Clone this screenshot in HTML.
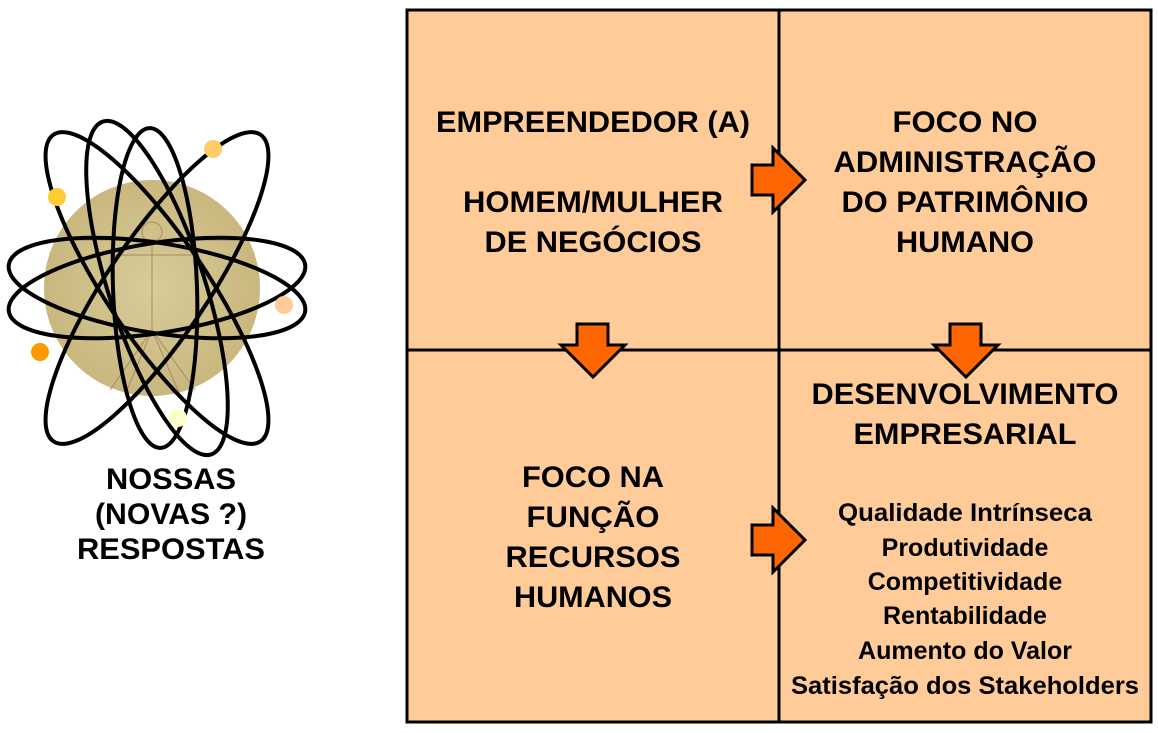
<!DOCTYPE html>
<html><head><meta charset="utf-8"><style>
html,body{margin:0;padding:0;background:#fff;}
svg{display:block;}
text{font-family:"Liberation Sans",Arial,sans-serif;font-weight:bold;fill:#000;}
</style></head><body>
<svg width="1158" height="733" viewBox="0 0 1158 733">
<defs>
<radialGradient id="g" cx="50%" cy="50%" r="50%">
<stop offset="0" stop-color="#d8cc9a"/><stop offset="1" stop-color="#c9b77e"/>
</radialGradient>
</defs>
<circle cx="152" cy="288" r="108" fill="url(#g)"/>
<g fill="none" stroke="#a88a60" stroke-width="1.2" opacity="0.8">
<circle cx="152" cy="232" r="10"/>
<path d="M152 242 L152 330 M110 255 L195 255 M70 240 L235 240 M152 330 L125 395 M152 330 L180 395 M152 330 L110 390 M152 330 L195 390"/>
</g>
<g fill="none" stroke="#000" stroke-width="4">
<ellipse cx="157" cy="288" rx="150" ry="45" transform="rotate(9 157 288)"/>
<ellipse cx="157" cy="288" rx="150" ry="45" transform="rotate(-9 157 288)"/>
<ellipse cx="157" cy="288" rx="185" ry="50" transform="rotate(56 157 288)"/>
<ellipse cx="157" cy="288" rx="185" ry="50" transform="rotate(-56 157 288)"/>
<ellipse cx="155" cy="288" rx="160" ry="42" transform="rotate(88 155 288)"/>
<ellipse cx="157" cy="288" rx="175" ry="48" transform="rotate(72 157 288)"/>
</g>
<circle cx="57" cy="197" r="9" fill="#ffcc33"/>
<circle cx="213" cy="149" r="9" fill="#ffcc66"/>
<circle cx="284" cy="305" r="9" fill="#ffcc99"/>
<circle cx="40" cy="352" r="9" fill="#ff9900"/>
<circle cx="178" cy="418" r="9" fill="#ffffcc"/>
<g font-size="30" text-anchor="middle">
<text x="171" y="489" textLength="130" lengthAdjust="spacingAndGlyphs">NOSSAS</text>
<text x="171" y="524" textLength="152" lengthAdjust="spacingAndGlyphs">(NOVAS ?)</text>
<text x="171" y="559" textLength="188" lengthAdjust="spacingAndGlyphs">RESPOSTAS</text>
</g>
<rect x="407" y="10" width="744" height="712" fill="#ffcc99" stroke="#000" stroke-width="3"/>
<line x1="779" y1="10" x2="779" y2="722" stroke="#000" stroke-width="3"/>
<line x1="407" y1="350" x2="1151" y2="350" stroke="#000" stroke-width="3"/>
<g fill="#ff6600" stroke="#000" stroke-width="3" stroke-linejoin="miter">
<polygon points="752,165 773,165 773,148 805,180 773,212 773,195 752,195"/>
<polygon points="752,525 773,525 773,508 805,540 773,572 773,555 752,555"/>
<polygon points="577,324 608,324 608,345 625,345 593,377 561,345 577,345"/>
<polygon points="950,324 981,324 981,345 998,345 966,377 934,345 950,345"/>
</g>
<g font-size="30" text-anchor="middle">
<text x="593" y="132" textLength="314" lengthAdjust="spacingAndGlyphs">EMPREENDEDOR (A)</text>
<text x="593" y="212" textLength="260" lengthAdjust="spacingAndGlyphs">HOMEM/MULHER</text>
<text x="593" y="252" textLength="217" lengthAdjust="spacingAndGlyphs">DE NEGÓCIOS</text>
<text x="965" y="132" textLength="145" lengthAdjust="spacingAndGlyphs">FOCO NO</text>
<text x="965" y="172" textLength="263" lengthAdjust="spacingAndGlyphs">ADMINISTRAÇÃO</text>
<text x="965" y="212" textLength="247" lengthAdjust="spacingAndGlyphs">DO PATRIMÔNIO</text>
<text x="965" y="252" textLength="138" lengthAdjust="spacingAndGlyphs">HUMANO</text>
<text x="965" y="404" textLength="307" lengthAdjust="spacingAndGlyphs">DESENVOLVIMENTO</text>
<text x="965" y="444" textLength="223" lengthAdjust="spacingAndGlyphs">EMPRESARIAL</text>
<text x="593" y="487" textLength="142" lengthAdjust="spacingAndGlyphs">FOCO NA</text>
<text x="593" y="527" textLength="133" lengthAdjust="spacingAndGlyphs">FUNÇÃO</text>
<text x="593" y="567" textLength="175" lengthAdjust="spacingAndGlyphs">RECURSOS</text>
<text x="593" y="607" textLength="158" lengthAdjust="spacingAndGlyphs">HUMANOS</text>
</g>
<g font-size="25" text-anchor="middle">
<text x="965" y="521" textLength="254" lengthAdjust="spacingAndGlyphs">Qualidade Intrínseca</text>
<text x="965" y="556">Produtividade</text>
<text x="965" y="590">Competitividade</text>
<text x="965" y="624">Rentabilidade</text>
<text x="965" y="659">Aumento do Valor</text>
<text x="965" y="694" textLength="348" lengthAdjust="spacingAndGlyphs">Satisfação dos Stakeholders</text>
</g>
</svg>
</body></html>
